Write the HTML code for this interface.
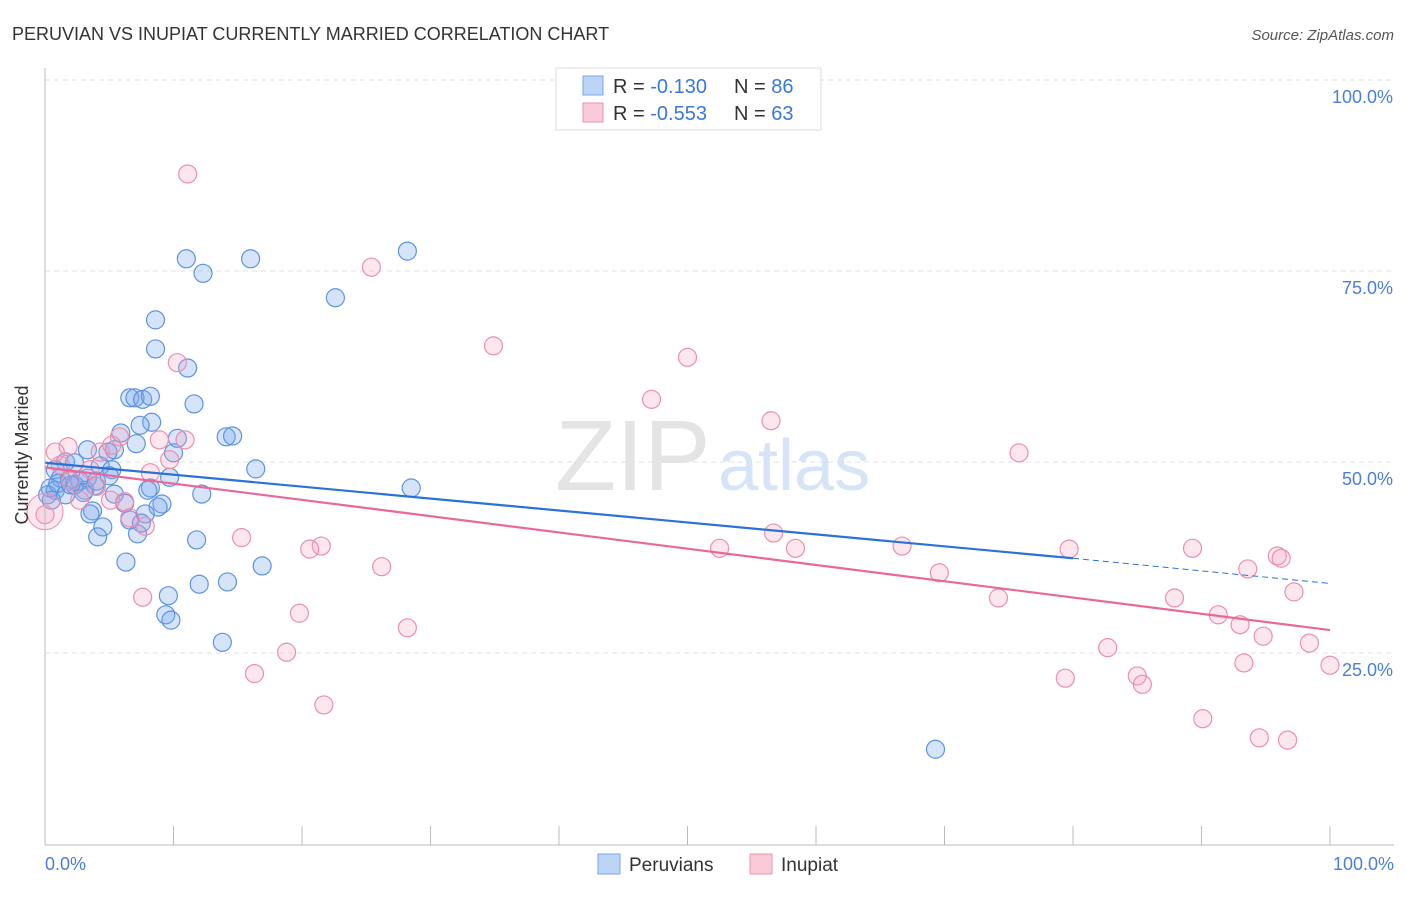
<!DOCTYPE html>
<html><head><meta charset="utf-8"><style>
body{margin:0;background:#fff;font-family:"Liberation Sans",sans-serif;}
svg text{font-family:"Liberation Sans",sans-serif;}
</style></head><body>
<svg id="chart" width="1406" height="892">
<text x="12" y="40" font-size="18" fill="#333">PERUVIAN VS INUPIAT CURRENTLY MARRIED CORRELATION CHART</text>
<text x="1394" y="40" font-size="15" fill="#555" text-anchor="end" font-style="italic">Source: ZipAtlas.com</text>
<g id="grid"></g>
<text x="555" y="490" font-size="100" fill="#e4e4e4" font-family="Liberation Serif">ZIP</text>
<text x="718" y="490" font-size="72" fill="#d6e4f7">atlas</text>
<g id="pts"></g>
<g id="lines"></g>
<line x1="45" y1="68" x2="45" y2="845" stroke="#bbb"/>
<line x1="45" y1="845" x2="1394" y2="845" stroke="#bbb"/>
<g id="axes"></g>
<text x="28" y="455" font-size="18" fill="#333" text-anchor="middle" transform="rotate(-90 28 455)">Currently Married</text>
<text x="45" y="870" font-size="18" fill="#4a7fd6">0.0%</text>
<text x="1394" y="870" font-size="18" fill="#4a7fd6" text-anchor="end">100.0%</text>
<g>
<rect x="556" y="68" width="265" height="62" fill="#fff" stroke="#ddd"/>
<rect x="583" y="76" width="20" height="19" fill="#bcd4f6" stroke="#7aa6e8"/>
<rect x="583" y="103" width="20" height="19" fill="#fbcad8" stroke="#eb94b0"/>
<text x="613" y="93" font-size="20" fill="#333">R = <tspan fill="#3a78d8"> -0.130</tspan></text>
<text x="734" y="93" font-size="20" fill="#333">N = <tspan fill="#3a78d8">86</tspan></text>
<text x="613" y="120" font-size="20" fill="#333">R = <tspan fill="#3a78d8">-0.553</tspan></text>
<text x="734" y="120" font-size="20" fill="#333">N = <tspan fill="#3a78d8">63</tspan></text>
</g>
<g>
<rect x="598" y="854" width="22" height="20" fill="#bcd4f6" stroke="#7aa6e8"/>
<text x="629" y="871" font-size="19" fill="#333">Peruvians</text>
<rect x="750" y="854" width="22" height="20" fill="#fbcad8" stroke="#eb94b0"/>
<text x="781" y="871" font-size="19" fill="#333">Inupiat</text>
</g>
</svg>
<script>
const yTicks=[100,75,50,25];
const xTicks=[0,10,20,30,40,50,60,70,80,90,100];
const blueX=[11.0,12.3,16.0,28.2,22.6,8.6,8.6,11.1,11.6,6.6,7.0,7.6,8.2,8.3,7.4,5.9,14.1,14.6,10.3,7.1,5.4,3.3,4.9,10.0,16.4,1.6,2.3,4.3,5.2,9.7,0.8,1.2,1.9,2.7,3.9,0.4,0.8,3.1,8.2,8.0,28.5,12.2,5.4,6.2,9.1,8.8,3.7,3.5,7.8,6.6,7.5,4.5,7.2,4.1,11.8,6.3,16.9,14.2,12.0,9.6,9.4,9.8,13.8,69.3,0.2,0.5,1.6,2.3,3.3,1.0,2.0,3.0,4.0,5.0];
const blueY=[76.6,74.7,76.6,77.6,71.5,68.6,64.8,62.3,57.6,58.4,58.4,58.2,58.6,55.2,54.8,53.8,53.3,53.4,53.1,52.4,51.6,51.6,51.3,51.2,49.1,50.0,49.9,49.5,49.0,48.0,49.0,47.9,47.6,47.5,46.9,46.6,46.3,46.3,46.6,46.3,46.6,45.8,45.8,44.6,44.5,44.1,43.6,43.2,43.2,42.4,42.0,41.5,40.6,40.2,39.8,36.9,36.4,34.3,34.0,32.5,30.0,29.3,26.4,12.4,45.7,45.0,45.7,47.0,47.9,47.2,47.0,46.0,47.5,48.2];
const pinkX=[11.1,25.4,34.9,50.0,47.2,56.5,75.8,10.3,10.9,8.9,5.8,1.8,0.8,4.3,5.2,9.7,8.2,1.2,3.5,2.7,5.1,6.2,6.6,7.8,0,15.3,21.5,20.6,26.2,7.6,19.8,28.2,18.8,16.3,21.7,52.5,56.7,58.4,66.7,69.6,74.2,79.7,89.3,93.6,95.9,96.2,97.2,87.9,91.3,93.0,94.8,98.4,100,93.3,82.7,79.4,85.0,85.4,90.1,94.5,96.7,2.0,4.0];
const pinkY=[87.7,75.5,65.2,63.7,58.2,55.4,51.2,63.0,52.9,52.9,53.3,52.0,51.3,51.3,52.2,50.3,48.6,49.6,49.0,45.0,45.0,44.8,42.7,41.6,43.1,40.1,39.0,38.6,36.3,32.3,30.2,28.3,25.1,22.3,18.2,38.7,40.7,38.7,39.0,35.5,32.2,38.6,38.7,36.0,37.7,37.4,33.0,32.2,30.0,28.7,27.2,26.3,23.4,23.7,25.7,21.7,22.0,20.9,16.4,13.9,13.6,47.5,46.8];
const blueTrend=[49.9,37.4,34.1]; // at x=0, 80 (solid end), 100
const pinkTrend=[49.3,28.0]; // at x=0, 100
const NS='http://www.w3.org/2000/svg';
const sx=v=>45+v*12.85, sy=v=>844-v*7.64;
function mk(t,a,p){const e=document.createElementNS(NS,t);for(const k in a)e.setAttribute(k,a[k]);p.appendChild(e);return e;}
const grid=document.getElementById('grid'),axes=document.getElementById('axes');
yTicks.forEach(v=>{
 const l=mk('line',{x1:45,x2:1394,y1:sy(v),y2:sy(v),stroke:'#e2e2e2','stroke-dasharray':'5,4'},grid);
 
 
 const t=mk('text',{x:1393,y:sy(v)+23,'font-size':18,fill:'#4a7fd6','text-anchor':'end'},axes);
 t.textContent=v.toFixed(1)+'%';
 
 
});
xTicks.forEach(v=>{
 const l=mk('line',{x1:sx(v),x2:sx(v),y1:826,y2:845,stroke:'#bbb'},axes);
 
 
});
const pts=document.getElementById('pts');
blueX.forEach((x,i)=>{
 const c=mk('circle',{cx:sx(x),cy:sy(blueY[i]),r:9,fill:'rgba(120,165,235,0.3)',stroke:'#5d93e2','stroke-width':1.2},pts);
 
 
});
pinkX.forEach((x,i)=>{
 const c=mk('circle',{cx:sx(x),cy:sy(pinkY[i]),r:9,fill:'rgba(245,160,190,0.25)',stroke:'#ea8fae','stroke-width':1.2},pts);
 
 
});
const big=mk('circle',{cx:45,cy:sy(43.5),r:18,fill:'rgba(245,160,190,0.25)',stroke:'#ea8fae'},pts);


const lines=document.getElementById('lines');
let l1=mk('line',{x1:sx(0),y1:sy(blueTrend[0]),x2:sx(80),y2:sy(blueTrend[1]),stroke:'#2a72d8','stroke-width':2.2},lines);


let l2=mk('line',{x1:sx(80),y1:sy(blueTrend[1]),x2:sx(100),y2:sy(blueTrend[2]),stroke:'#2a72d8','stroke-width':1,'stroke-dasharray':'6,4'},lines);


let l3=mk('line',{x1:sx(0),y1:sy(pinkTrend[0]),x2:sx(100),y2:sy(pinkTrend[1]),stroke:'#e8689a','stroke-width':2.2},lines);


</script>
</body></html>
